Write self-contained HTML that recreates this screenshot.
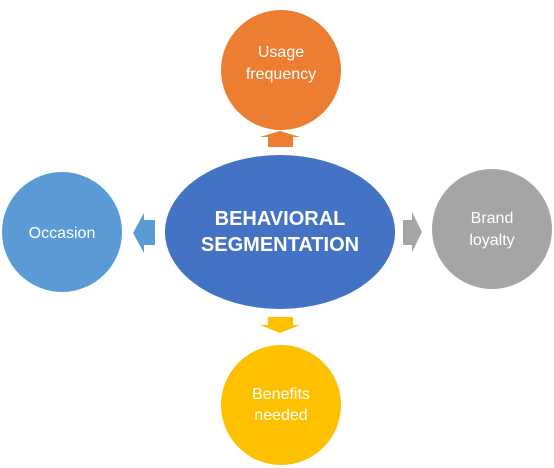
<!DOCTYPE html>
<html><head><style>
html,body{margin:0;padding:0;background:#fff;width:554px;height:468px;overflow:hidden}
</style></head><body>
<svg width="554" height="468" xmlns="http://www.w3.org/2000/svg" font-family="Liberation Sans, sans-serif">
<circle cx="281" cy="70" r="60" fill="#ED7D31"/>
<circle cx="62" cy="232" r="60" fill="#5B9BD5"/>
<circle cx="492" cy="229" r="60" fill="#A5A5A5"/>
<circle cx="281" cy="405" r="60" fill="#FFC000"/>
<ellipse cx="280" cy="232" rx="115" ry="77" fill="#4472C4"/>
<polygon points="268,147 293,147 293,137 300,137 280,131 260,137 268,137" fill="#ED7D31"/>
<polygon points="155,220 155,245 144,245 144,253 133,233 144,213 144,220" fill="#5B9BD5"/>
<polygon points="403,220 403,245 412,245 412,252 422,232 412,212 412,220" fill="#A5A5A5"/>
<polygon points="268,317 293,317 293,325 300,325 280,333 260,325 268,325" fill="#FFC000"/>
<g fill="#fff" text-anchor="middle">
<text x="280" y="225" font-size="20" font-weight="bold">BEHAVIORAL</text>
<text x="280" y="251" font-size="20" font-weight="bold">SEGMENTATION</text>
<text x="281" y="57" font-size="16">Usage</text>
<text x="281" y="79" font-size="16">frequency</text>
<text x="62" y="238" font-size="16">Occasion</text>
<text x="492" y="223" font-size="16">Brand</text>
<text x="492" y="245" font-size="16">loyalty</text>
<text x="281" y="399" font-size="16">Benefits</text>
<text x="281" y="420" font-size="16">needed</text>
</g>
</svg>
</body></html>
